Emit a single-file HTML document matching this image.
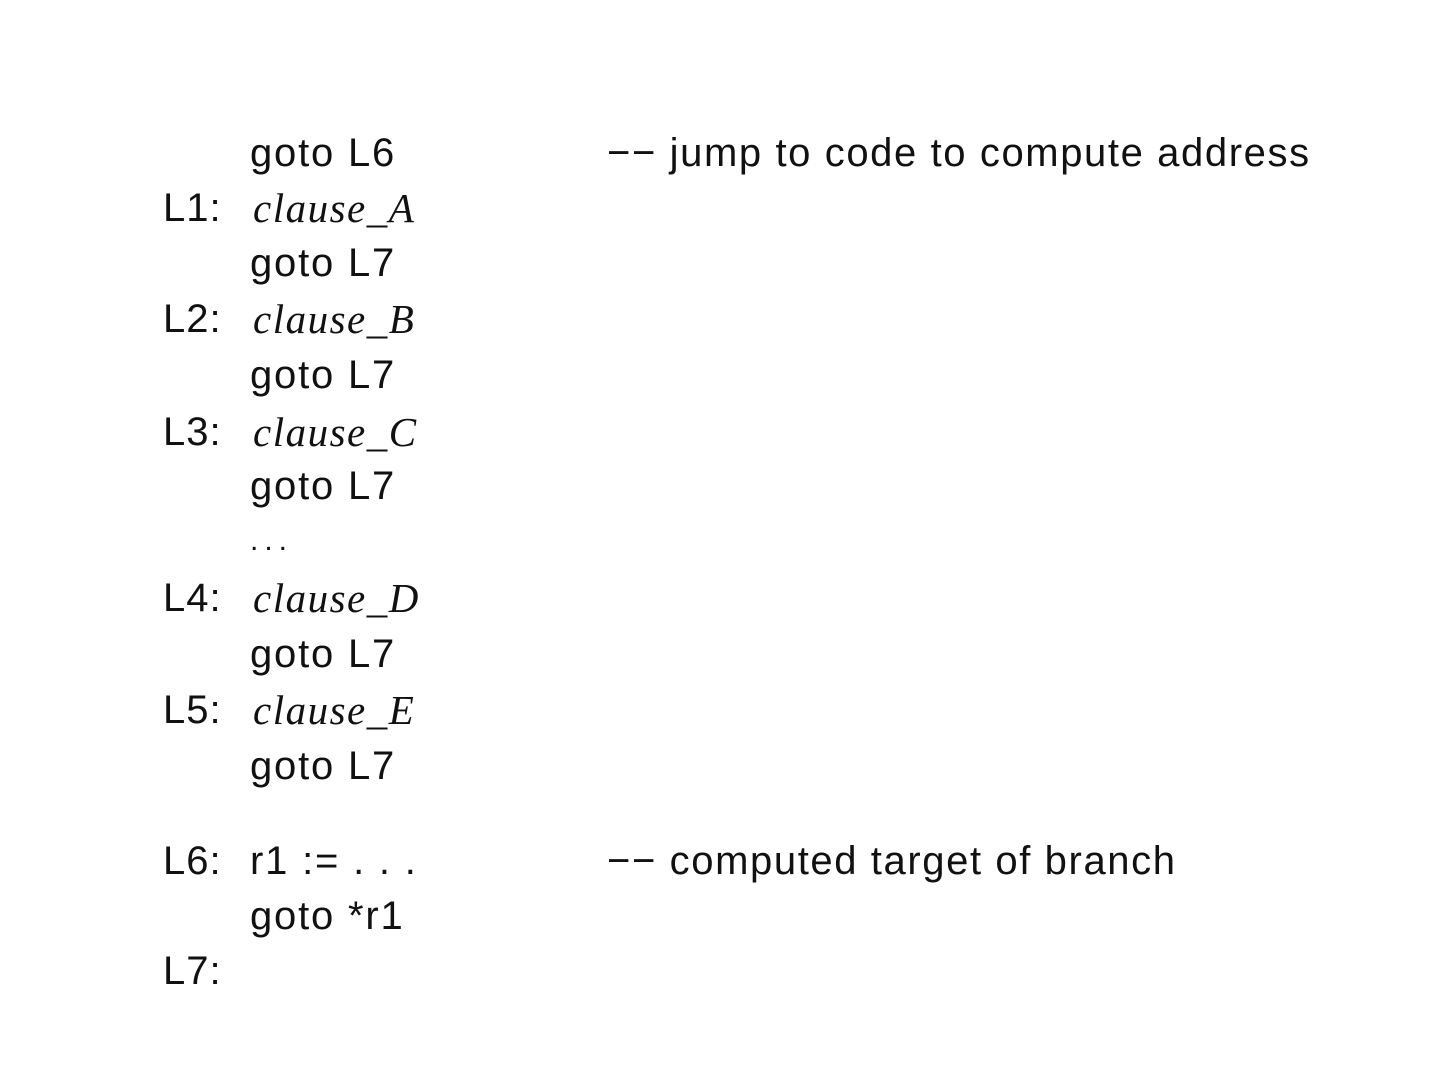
<!DOCTYPE html>
<html><head><meta charset="utf-8"><style>
html,body{margin:0;padding:0;background:#fff;}
body{width:1440px;height:1080px;position:relative;overflow:hidden;font-family:"Liberation Sans",sans-serif;font-size:40px;color:#111;}
.r{position:absolute;line-height:40px;white-space:pre;height:40px;}
.lab{left:163px;letter-spacing:1px;}
.code{left:250px;letter-spacing:1.8px;}
.cl{left:253px;font-family:"Liberation Serif",serif;font-style:italic;letter-spacing:1.5px;font-size:41px;}
.cm{left:607px;letter-spacing:1.6px;}
</style></head><body>
<div class="r code" style="top:133px">goto L6</div><div class="r cm" style="top:133px">−− jump to code to compute address</div>
<div class="r lab" style="top:188px">L1:</div><div class="r cl" style="top:188px">clause_A</div>
<div class="r code" style="top:243px">goto L7</div>
<div class="r lab" style="top:299px">L2:</div><div class="r cl" style="top:299px">clause_B</div>
<div class="r code" style="top:355px">goto L7</div>
<div class="r lab" style="top:412px">L3:</div><div class="r cl" style="top:412px">clause_C</div>
<div class="r code" style="top:466px">goto L7</div>
<div class="r code" style="top:521px;letter-spacing:6px;font-size:30px;">...</div>
<div class="r lab" style="top:578px">L4:</div><div class="r cl" style="top:578px">clause_D</div>
<div class="r code" style="top:634px">goto L7</div>
<div class="r lab" style="top:690px">L5:</div><div class="r cl" style="top:690px">clause_E</div>
<div class="r code" style="top:746px">goto L7</div>
<div class="r lab" style="top:841px">L6:</div><div class="r code" style="top:841px">r1 := . . .</div><div class="r cm" style="top:841px">−− computed target of branch</div>
<div class="r code" style="top:896px">goto *r1</div>
<div class="r lab" style="top:951px">L7:</div>
</body></html>
